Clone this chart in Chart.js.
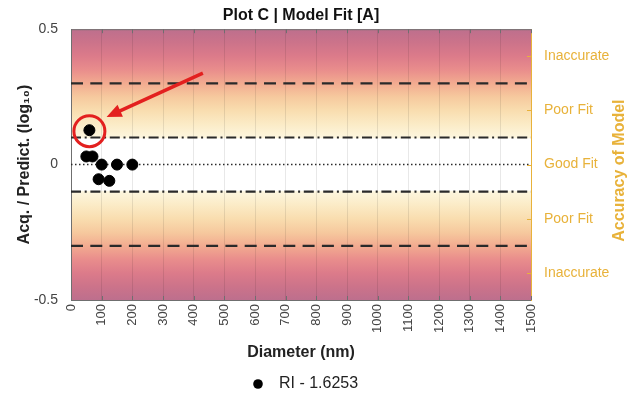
<!DOCTYPE html>
<html>
<head>
<meta charset="utf-8">
<script src="https://cdn.jsdelivr.net/npm/chart.js@4.4.1/dist/chart.umd.min.js"></script>
<style>
  body { margin: 0; background: #fff; }
  #wrap { width: 631px; height: 394px; }
</style>
</head>
<body>
<div id="wrap"><canvas id="fitChart" width="631" height="394"></canvas></div>
<script>
// measured particles (diameter in nm, log10 of acquired / predicted)
var diameters = [50, 60, 70, 90, 100, 125, 150, 200];
var ratios = [0.03, 0.127, 0.03, -0.054, 0, -0.06, 0, 0];
var highlightIndex = 1;
var seriesName = 'RI - 1.6253';

// accuracy bands
var goodLimit = 0.1;
var poorLimit = 0.3;
var accuracyValues = [-0.4, -0.2, 0, 0.2, 0.4];
var accuracyLabels = ['Inaccurate', 'Poor Fit', 'Good Fit', 'Poor Fit', 'Inaccurate'];

var xMin = 0, xMax = 1500, xStep = 100;
var yMin = -0.5, yMax = 0.5;

var gold = '#e8b23a';
var fontName = "'Liberation Sans', Arial, sans-serif";
Chart.defaults.font.family = fontName;

function hLine(y, dash, width) {
    return {
        label: 'ref',
        data: [{x: xMin, y: y}, {x: xMax, y: y}],
        showLine: true,
        pointRadius: 0,
        borderColor: '#2a2a2a',
        borderWidth: width,
        borderDash: dash
    };
}

// colour bands behind the plot, frame, annotation, legend
var bandPlugin = {
    id: 'bands',
    beforeDraw: function(chart) {
        var ctx = chart.ctx, a = chart.chartArea, ys = chart.scales.y;
        var stops = [
            [0.5, '#bd6f8d'], [0.45, '#cc738a'], [0.4, '#dc7b8a'], [0.35, '#e98d8c'],
            [0.3, '#f2ab90'], [0.25, '#f6c99e'], [0.2, '#f9ddaf'], [0.15, '#fbebc6'],
            [0.1, '#fdf6de'], [0.095, '#ffffff']
        ];
        var g = ctx.createLinearGradient(0, a.top, 0, a.bottom);
        stops.forEach(function(s) {
            g.addColorStop((ys.getPixelForValue(s[0]) - a.top) / (a.bottom - a.top), s[1]);
            g.addColorStop((ys.getPixelForValue(-s[0]) - a.top) / (a.bottom - a.top), s[1]);
        });
        ctx.save();
        ctx.fillStyle = g;
        ctx.fillRect(a.left, a.top, a.right - a.left, a.bottom - a.top);
        ctx.restore();
    },
    afterDraw: function(chart) {
        var ctx = chart.ctx, a = chart.chartArea, xs = chart.scales.x, ys = chart.scales.y;
        ctx.save();
        // frame + inward ticks
        ctx.strokeStyle = '#6f6f6f';
        ctx.lineWidth = 1;
        ctx.beginPath();
        ctx.moveTo(a.left, a.top + 0.5); ctx.lineTo(a.right, a.top + 0.5);
        for (var v = xMin; v <= xMax; v += xStep) {
            var px = Math.round(xs.getPixelForValue(v)) + 0.5;
            ctx.moveTo(px, a.top); ctx.lineTo(px, a.top + 4);
            ctx.moveTo(px, a.bottom); ctx.lineTo(px, a.bottom - 4);
        }
        ctx.stroke();
        ctx.strokeStyle = gold;
        ctx.beginPath();
        accuracyValues.forEach(function(val) {
            var py = Math.round(ys.getPixelForValue(val)) + 0.5;
            ctx.moveTo(a.right, py); ctx.lineTo(a.right - 4, py);
        });
        ctx.stroke();

        // highlight circle and arrow
        var cx = xs.getPixelForValue(diameters[highlightIndex]);
        var cy = ys.getPixelForValue(ratios[highlightIndex]);
        ctx.strokeStyle = '#e3201f';
        ctx.fillStyle = '#e3201f';
        ctx.lineWidth = 3;
        ctx.beginPath();
        ctx.arc(cx, cy + 1, 15.5, 0, Math.PI * 2);
        ctx.stroke();
        var x0 = xs.getPixelForValue(430), y0 = ys.getPixelForValue(0.338);
        var x1 = xs.getPixelForValue(116), y1 = ys.getPixelForValue(0.176);
        var ang = Math.atan2(y1 - y0, x1 - x0);
        ctx.lineWidth = 3.5;
        ctx.beginPath();
        ctx.moveTo(x0, y0);
        ctx.lineTo(x1 - 10 * Math.cos(ang), y1 - 10 * Math.sin(ang));
        ctx.stroke();
        ctx.beginPath();
        ctx.moveTo(x1, y1);
        ctx.lineTo(x1 - 15 * Math.cos(ang) + 6.5 * Math.sin(ang), y1 - 15 * Math.sin(ang) - 6.5 * Math.cos(ang));
        ctx.lineTo(x1 - 15 * Math.cos(ang) - 6.5 * Math.sin(ang), y1 - 15 * Math.sin(ang) + 6.5 * Math.cos(ang));
        ctx.closePath();
        ctx.fill();

        // legend
        ctx.fillStyle = '#000';
        ctx.beginPath();
        ctx.arc(258, 384, 4.8, 0, Math.PI * 2);
        ctx.fill();
        ctx.fillStyle = '#222';
        ctx.font = '16px ' + fontName;
        ctx.textBaseline = 'middle';
        ctx.fillText(seriesName, 279, 384);

        // right axis title, reading upward
        ctx.translate(620, (a.top + a.bottom) / 2 + 6);
        ctx.rotate(-Math.PI / 2);
        ctx.fillStyle = gold;
        ctx.font = 'bold 16px ' + fontName;
        ctx.textAlign = 'center';
        ctx.fillText('Accuracy of Model', 0, 0);
        ctx.restore();
    }
};

var ctx = document.getElementById('fitChart');
var myChart = new Chart(ctx, {
    type: 'scatter',
    data: {
        datasets: [
            {
                label: seriesName,
                data: diameters.map(function(d, i) { return {x: d, y: ratios[i]}; }),
                backgroundColor: '#000',
                borderColor: '#000',
                pointRadius: 5.5,
                pointHoverRadius: 5.5
            },
            hLine(0, [1.5, 2.5], 1.5),
            hLine(goodLimit, [10, 3.7, 2, 3.7], 2.2),
            hLine(-goodLimit, [10, 3.7, 2, 3.7], 2.2),
            hLine(poorLimit, [12, 7.3], 2.2),
            hLine(-poorLimit, [12, 7.3], 2.2)
        ]
    },
    options: {
        responsive: false,
        animation: false,
        layout: { padding: 0 },
        plugins: {
            title: {
                display: true,
                text: 'Plot C | Model Fit [A]',
                fullSize: false,
                color: '#111',
                font: { size: 16, weight: 'bold' },
                padding: { top: 6, bottom: 4 }
            },
            legend: { display: false },
            tooltip: { enabled: false }
        },
        scales: {
            x: {
                type: 'linear',
                min: xMin,
                max: xMax,
                afterFit: function(s) { s.height = 94; },
                ticks: {
                    stepSize: xStep,
                    minRotation: 90,
                    maxRotation: 90,
                    padding: 4,
                    color: '#444',
                    font: { size: 13 },
                    callback: function(v) { return String(v); }
                },
                grid: { color: 'rgba(0,0,0,0.09)', drawTicks: false },
                border: { color: '#6f6f6f' },
                title: {
                    display: true,
                    text: 'Diameter (nm)',
                    color: '#222',
                    font: { size: 16, weight: 'bold' },
                    padding: { top: 0, bottom: 32 }
                }
            },
            y: {
                min: yMin,
                max: yMax,
                afterFit: function(s) { s.width = 71; },
                ticks: {
                    stepSize: 0.5,
                    padding: 5,
                    color: '#444',
                    font: { size: 14 }
                },
                grid: { display: false },
                border: { color: '#6f6f6f' },
                title: {
                    display: true,
                    text: 'Acq. / Predict. (log\u2081\u2080)',
                    color: '#222',
                    font: { size: 16, weight: 'bold' },
                    padding: { top: 15, bottom: 0 }
                }
            },
            y2: {
                position: 'right',
                min: yMin,
                max: yMax,
                afterFit: function(s) { s.width = 100; },
                afterBuildTicks: function(s) {
                    s.ticks = accuracyValues.map(function(v) { return {value: v}; });
                },
                ticks: {
                    padding: 5,
                    color: gold,
                    font: { size: 14 },
                    callback: function(v) { return accuracyLabels[accuracyValues.indexOf(v)]; }
                },
                grid: { display: false },
                border: { color: gold }
            }
        }
    },
    plugins: [bandPlugin]
});
</script>
</body>
</html>
